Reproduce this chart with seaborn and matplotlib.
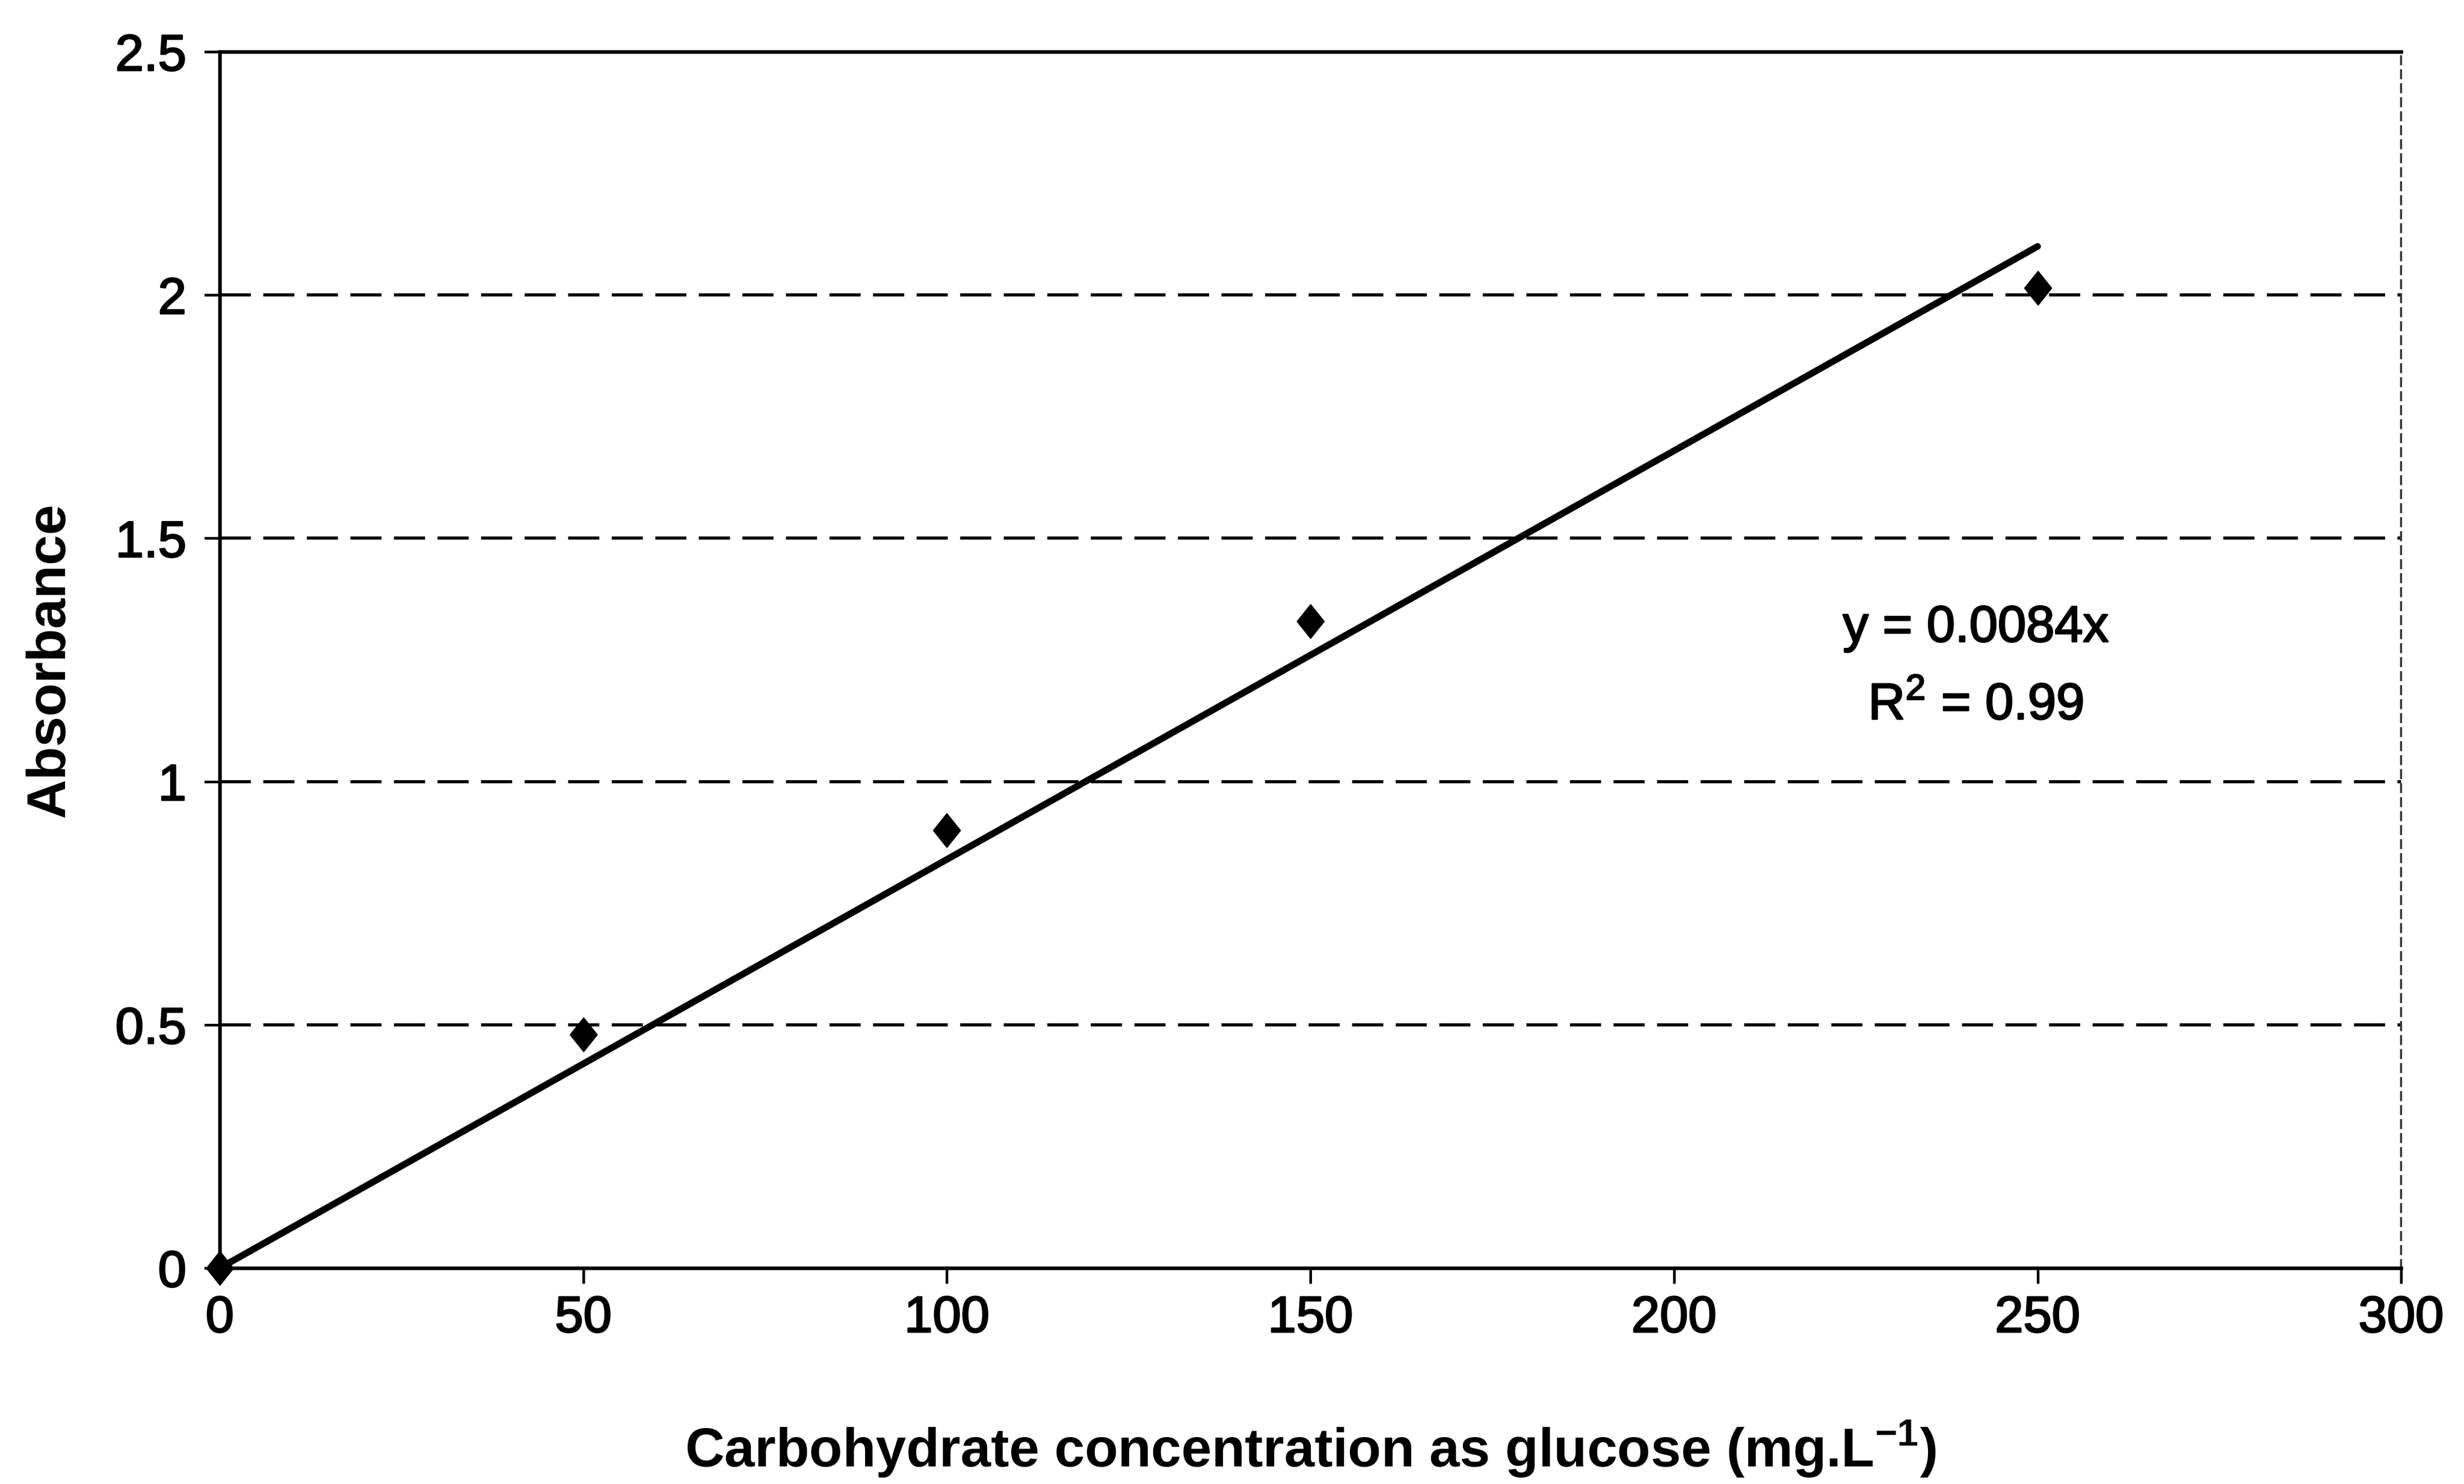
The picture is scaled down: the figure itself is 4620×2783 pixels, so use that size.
import matplotlib
matplotlib.use("Agg")
import matplotlib.pyplot as plt
import matplotlib.patheffects as pe
from matplotlib.path import Path
import seaborn as sns
import pandas as pd

# Calibration standards
glucose_conc = [0, 50, 100, 150, 250]          # mg/L
absorbance = [0.0, 0.48, 0.90, 1.33, 2.015]

# Linear fit through the origin
slope = 0.0084
r_squared = 0.99
fit_range = [0, 250]

x_ticks = [0, 50, 100, 150, 200, 250, 300]
y_ticks = [0, 0.5, 1, 1.5, 2, 2.5]
y_tick_labels = ["0", "0.5", "1", "1.5", "2", "2.5"]

sns.set_theme(style="white")
plt.rcParams["font.family"] = ["Liberation Sans", "DejaVu Sans"]
plt.rcParams["mathtext.fontset"] = "custom"
plt.rcParams["mathtext.rm"] = "Liberation Sans"
plt.rcParams["mathtext.bf"] = "Liberation Sans:bold"
plt.rcParams["axes.labelcolor"] = "black"
plt.rcParams["text.color"] = "black"

# slightly heavier strokes for all text
heavy = [pe.withStroke(linewidth=0.7, foreground="black")]

# Diamond marker, a little taller than wide
diamond = Path([(0, 1), (0.8, 0), (0, -1), (-0.8, 0), (0, 1)],
               [Path.MOVETO, Path.LINETO, Path.LINETO, Path.LINETO,
                Path.CLOSEPOLY])

fig = plt.figure(figsize=(15.4, 9.2767), dpi=300)
ax = fig.add_axes([0.0892, 0.1455, 0.8853, 0.8196])

df = pd.DataFrame({"conc": glucose_conc, "abs": absorbance})
fit_df = pd.DataFrame({"conc": fit_range,
                       "abs": [slope * v for v in fit_range]})

# Dashed horizontal gridlines
for yv in y_ticks[1:-1]:
    ax.axhline(yv, color="black", lw=1.4, dashes=(10, 4), zorder=1)

sns.lineplot(data=fit_df, x="conc", y="abs", ax=ax, color="black",
             lw=3.0, solid_capstyle="round", zorder=3)
sns.scatterplot(data=df, x="conc", y="abs", ax=ax, marker=diamond, s=230,
                color="black", edgecolor="black", linewidth=0.5, zorder=4,
                clip_on=False)

ax.set_xlim(0, 300)
ax.set_ylim(0, 2.5)
ax.set_xticks(x_ticks)
ax.set_xticklabels([str(v) for v in x_ticks])
ax.set_yticks(y_ticks)
ax.set_yticklabels(y_tick_labels)

for side in ["left", "bottom", "top"]:
    ax.spines[side].set_visible(True)
    ax.spines[side].set_color("black")
    ax.spines[side].set_linewidth(1.6)
ax.spines["right"].set_color("#333333")
ax.spines["right"].set_linewidth(0.9)
ax.spines["right"].set_linestyle((0, (4, 3)))

ax.tick_params(axis="both", which="major", direction="out", length=7,
               width=1.2, color="black", labelsize=23, labelcolor="black")
ax.tick_params(axis="x", pad=5)
ax.tick_params(axis="y", pad=8)
ax.xaxis.set_ticks_position("bottom")
ax.yaxis.set_ticks_position("left")
for lab in ax.get_xticklabels() + ax.get_yticklabels():
    lab.set_path_effects(heavy)

ax.set_xlabel(r"Carbohydrate concentration as glucose (mg.L$^{\mathbf{-1}}$)",
              fontsize=24.5, fontweight="bold", labelpad=34, color="black")
ax.set_ylabel("Absorbance", fontsize=24.5, fontweight="bold", labelpad=18,
              color="black")

ax.text(241.5, 1.315, f"y = {slope}x", ha="center", va="center",
        fontsize=23, color="black", path_effects=heavy)
ax.text(241.5, 1.155, r"R$^{2}$ = " + f"{r_squared}", ha="center",
        va="center", fontsize=23, color="black", path_effects=heavy)

fig.savefig("out.png", dpi=300, facecolor="white")
